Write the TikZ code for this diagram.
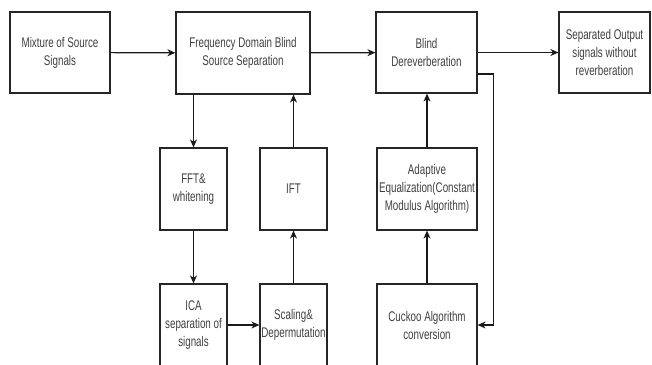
\documentclass[tikz,border=0pt]{standalone}
\usepackage{fontspec}
\setmainfont{Liberation Sans}[FakeStretch=0.7]
\usetikzlibrary{arrows.meta}
\tikzset{
  blk/.style={draw=black!85,line width=1.2pt,fill=white,inner sep=0pt,align=center,
    text=black!75,font=\fontsize{14}{18}\selectfont},
  flow/.style={draw=black!90,line width=1.2pt,-{Stealth[length=8pt,width=7pt,inset=2.5pt]}}
}
\begin{document}
\begin{tikzpicture}[x=1pt,y=-1pt]
        \useasboundingbox (0,0) rectangle (652,364);
        \clip (0,0) rectangle (652,364);
        %% Top row
        \node[blk,minimum width=100pt,minimum height=81pt] (mix) at (60,52.5) {Mixture of Source\\Signals};
        \node[blk,minimum width=134pt,minimum height=82pt] (fdbss) at (243,53) {Frequency Domain Blind\\Source Separation};
        \node[blk,minimum width=101pt,minimum height=81pt] (derev) at (426.5,52.5) {Blind\\Dereverberation};
        \node[blk,minimum width=91pt,minimum height=81pt] (out) at (604.5,52.5) {Separated Output\\signals without\\reverberation};
        %% Middle row
        \node[blk,minimum width=67pt,minimum height=82pt] (fft) at (193.5,189) {FFT\&\\whitening};
        \node[blk,minimum width=67pt,minimum height=82pt] (ift) at (293.5,189) {IFT};
        \node[blk,minimum width=100pt,minimum height=82pt] (cma) at (427,189) {Adaptive\\Equalization(Constant\\Modulus Algorithm)};
        %% Bottom row
        \node[blk,minimum width=67pt,minimum height=82pt] (ica) at (193.5,325) {ICA\\separation of\\signals};
        \node[blk,minimum width=67pt,minimum height=82pt] (scal) at (293.5,325) {Scaling\&\\Depermutation};
        \node[blk,minimum width=100pt,minimum height=82pt] (cuckoo) at (427,325) {Cuckoo Algorithm\\conversion};
        %% Connections
        \draw[flow] (mix) -- (fdbss);
        \draw[flow] (fdbss) -- (derev);
        \draw[flow] (derev) -- (out);
        \draw[flow] (fdbss.south -| fft.north) -- (fft.north);
        \draw[flow] (fft) -- (ica);
        \draw[flow] (ica) -- (scal);
        \draw[flow] (scal) -- (ift);
        \draw[flow] (ift.north) -- (ift.north |- fdbss.south);
        \draw[flow] (cuckoo) -- (cma);
        \draw[flow] (cma.north) -- (cma.north |- derev.south);
        \draw[flow] ([yshift=-21.5pt]derev.east) -- ++(16,0) |- (cuckoo.east);
\end{tikzpicture}
\end{document}
